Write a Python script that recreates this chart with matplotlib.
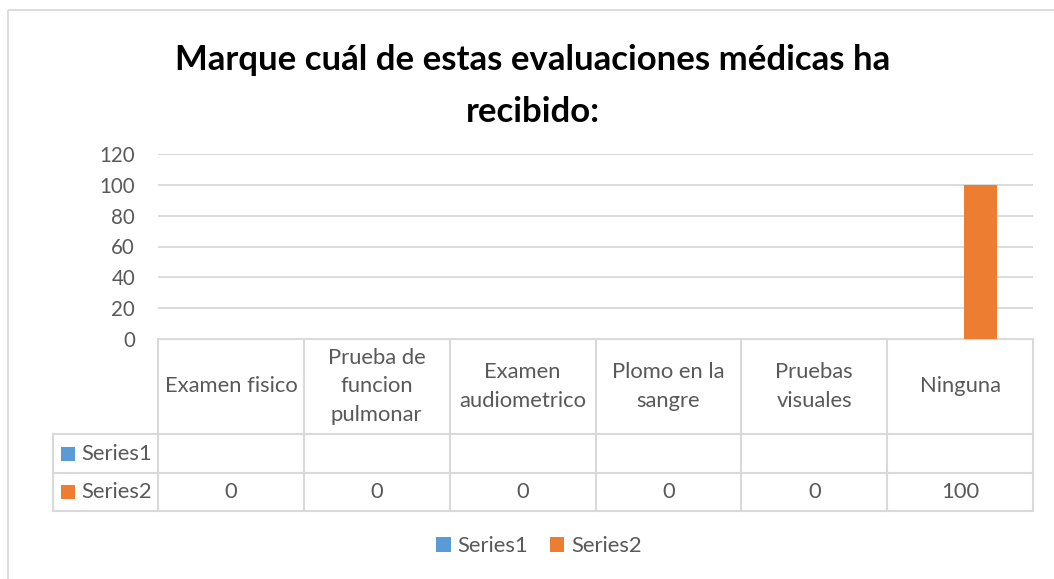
#!/usr/bin/env python3
"""Excel-style clustered column chart with a data table underneath."""

import matplotlib

matplotlib.use("Agg")
import matplotlib.pyplot as plt
from matplotlib.patches import Rectangle
import numpy as np

TITLE = "Marque cuál de estas evaluaciones médicas ha\nrecibido:"
CATEGORIES = [
    "Examen fisico",
    "Prueba de\nfuncion\npulmonar",
    "Examen\naudiometrico",
    "Plomo en la\nsangre",
    "Pruebas\nvisuales",
    "Ninguna",
]
SERIES_NAMES = ["Series1", "Series2"]
SERIES1 = [None, None, None, None, None, None]
SERIES2 = [0, 0, 0, 0, 0, 100]
Y_TICKS = [0, 20, 40, 60, 80, 100, 120]

COLORS = ["#5B9BD5", "#ED7D31"]
GRID = "#D9D9D9"
TEXT = "#595959"
FONT = "Lato"
FS = 15.8

W, H = 1054, 579
# plot area in pixels (left, top, right, bottom)
PL, PT, PR, PB = 158, 154, 1033, 339
ROW_EDGES = [339, 434, 473, 511]
LABEL_LEFT = 53


def fx(px):
    return px / W


def fy(py):
    return 1 - py / H


fig = plt.figure(figsize=(W / 100, H / 100), dpi=100)

# background overlay in pixel coordinates
bg = fig.add_axes([0, 0, 1, 1])
bg.set_xlim(0, W)
bg.set_ylim(H, 0)
bg.axis("off")
bg.add_patch(Rectangle((8, 10), W + 20, H + 20, fill=False, edgecolor=GRID, linewidth=1.3))

ax = fig.add_axes([fx(PL), fy(PB), fx(PR) - fx(PL), fy(PT) - fy(PB)])
n = len(CATEGORIES)
x = np.arange(n) + 0.5
width = 0.226
offsets = [-0.14, 0.14]
for vals, off, color, name in zip([SERIES1, SERIES2], offsets, COLORS, SERIES_NAMES):
    heights = [np.nan if v is None else v for v in vals]
    ax.bar(x + off, heights, width=width, color=color, label=name, zorder=3)
ax.set_xlim(0, n)
ax.set_ylim(0, Y_TICKS[-1])
ax.set_yticks(Y_TICKS)
ax.set_xticks([])
ax.grid(True, axis="y", color=GRID, linewidth=1.3, zorder=0)
for side in ["top", "right", "left", "bottom"]:
    ax.spines[side].set_visible(False)
ax.tick_params(axis="y", length=0, pad=16.5, labelsize=14.8, labelcolor=TEXT)
for lab in ax.get_yticklabels():
    lab.set_fontfamily(FONT)

# data table
col_w = (PR - PL) / n
line_kw = dict(color=GRID, linewidth=1.5, solid_capstyle="projecting")
bg.plot([PL, PR], [ROW_EDGES[0], ROW_EDGES[0]], **line_kw)
for y in ROW_EDGES[1:]:
    bg.plot([LABEL_LEFT, PR], [y, y], **line_kw)
bg.plot([LABEL_LEFT, LABEL_LEFT], [ROW_EDGES[1], ROW_EDGES[-1]], **line_kw)
for k in range(n + 1):
    xx = PL + k * col_w
    bg.plot([xx, xx], [ROW_EDGES[0], ROW_EDGES[-1]], **line_kw)

head_y = (ROW_EDGES[0] + ROW_EDGES[1]) / 2
for i, cat in enumerate(CATEGORIES):
    bg.text(PL + (i + 0.5) * col_w, head_y, cat, ha="center", va="center",
            fontsize=FS, color=TEXT, family=FONT, linespacing=1.52)

for r, (name, vals, color) in enumerate(zip(SERIES_NAMES, [SERIES1, SERIES2], COLORS)):
    yc = (ROW_EDGES[r + 1] + ROW_EDGES[r + 2]) / 2
    bg.add_patch(Rectangle((61, yc - 7), 14, 14, color=color, linewidth=0))
    bg.text(81, yc, name, ha="left", va="center", fontsize=FS, color=TEXT, family=FONT)
    for i, v in enumerate(vals):
        if v is None:
            continue
        bg.text(PL + (i + 0.5) * col_w, yc, f"{v:g}", ha="center", va="center",
                fontsize=FS, color=TEXT, family=FONT)

# title
fig.text(fx(533), fy(86), TITLE, ha="center", va="center", fontsize=25,
         fontweight="bold", family=FONT, color="black", linespacing=1.8)

# legend
handles, labels = ax.get_legend_handles_labels()
fig.legend(handles, labels, loc="center", bbox_to_anchor=(fx(539), fy(546)), ncol=2,
           frameon=False, handlelength=0.65, handleheight=0.65, handletextpad=0.3,
           columnspacing=1.0, prop={"family": FONT, "size": FS}, labelcolor=TEXT)

fig.savefig("out.png", dpi=100)
